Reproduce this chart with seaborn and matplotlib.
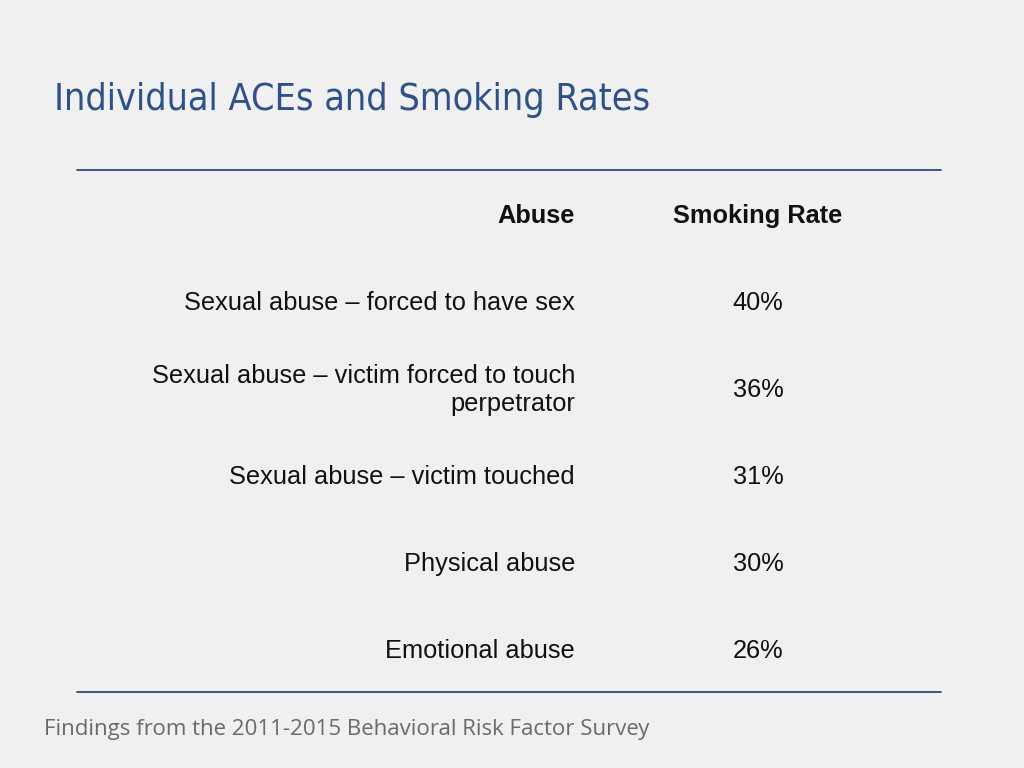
import matplotlib
matplotlib.use("Agg")
import matplotlib.pyplot as plt
import seaborn as sns

categories = ["Sexual abuse – forced to have sex",
              "Sexual abuse – victim forced to touch\nperpetrator",
              "Sexual abuse – victim touched",
              "Physical abuse",
              "Emotional abuse"]
rates = [40, 36, 31, 30, 26]
col_headers = ["Abuse", "Smoking Rate"]
title = "Individual ACEs and Smoking Rates"
footer = "Findings from the 2011-2015 Behavioral Risk Factor Survey"

bg = "#F0F0F0"
sns.set_theme(style="white", rc={"figure.facecolor": bg, "axes.facecolor": bg})
fig = plt.figure(figsize=(10.24, 7.68), dpi=100)
ax = fig.add_axes([0, 0, 1, 1])
ax.set_xlim(0, 1024); ax.set_ylim(768, 0); ax.axis("off")

ax.text(54, 100, title, fontsize=27, color="#2E5287", va="center", ha="left",
        family="Liberation Sans Narrow", fontstretch="condensed")
line_c = "#2E4A7A"
ax.plot([77, 941], [170, 170], color=line_c, lw=1.3)
ax.plot([77, 941], [692, 692], color=line_c, lw=1.3)

fs = 18.3
ax.text(575, 216, col_headers[0], fontsize=fs, weight="bold", ha="right", va="center",
        family="Liberation Sans", color="#111111")
ax.text(758, 216, col_headers[1], fontsize=fs, weight="bold", ha="center", va="center",
        family="Liberation Sans", color="#111111")

ys = [303, 390, 477, 564, 651]
for y, c, r in zip(ys, categories, rates):
    ax.text(575, y, c, fontsize=fs, ha="right", va="center", family="Liberation Sans",
            color="#111111", linespacing=1.2, multialignment="right")
    ax.text(758, y, f"{r}%", fontsize=fs, ha="center", va="center",
            family="Liberation Sans", color="#111111")

ax.text(44, 730, footer, fontsize=16, ha="left", va="center", family="Open Sans",
        color="#6B6B6B")
fig.savefig("out.png", dpi=100, facecolor=bg)
